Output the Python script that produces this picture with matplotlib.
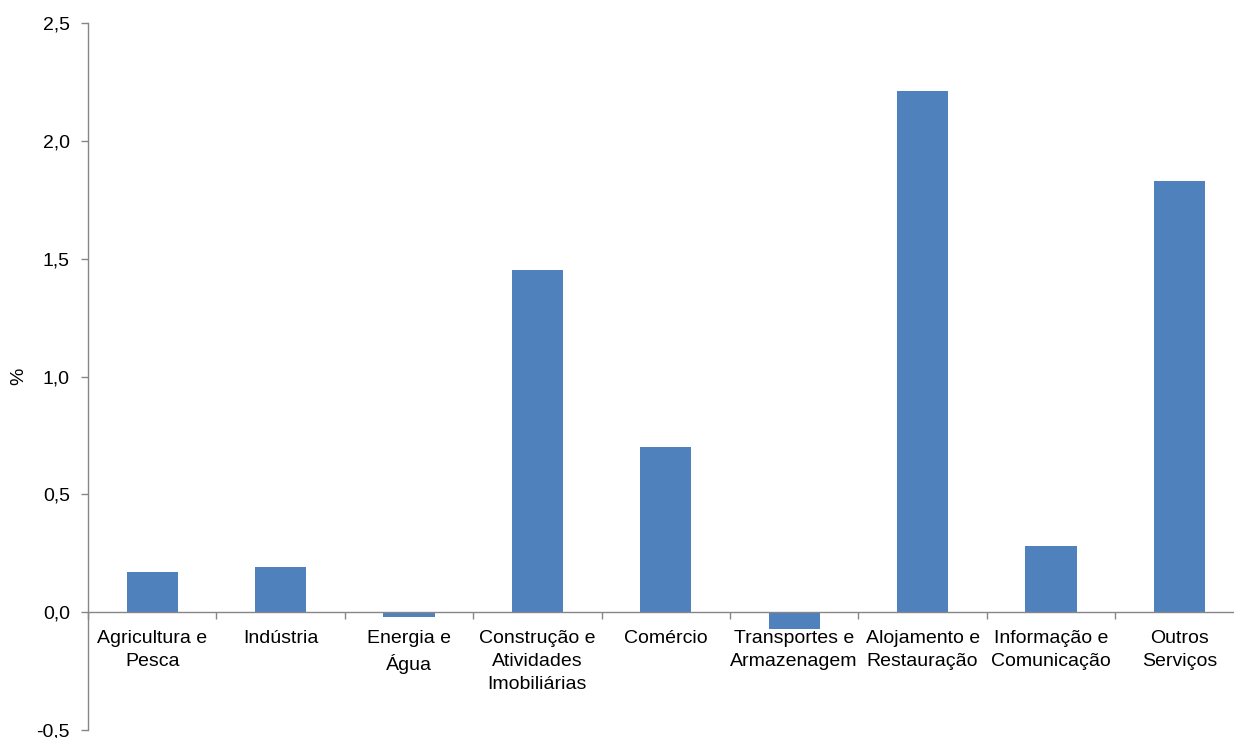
import matplotlib
matplotlib.use('Agg')
import matplotlib.pyplot as plt
from matplotlib.ticker import FixedLocator, FuncFormatter

plt.rcParams['font.family'] = ['Liberation Sans', 'DejaVu Sans']

categorias = ['Agricultura e\nPesca', 'Indústria', 'Energia e\nÁgua',
              'Construção e\nAtividades\nImobiliárias', 'Comércio',
              'Transportes e\nArmazenagem', 'Alojamento e\nRestauração',
              'Informação e\nComunicação', 'Outros\nServiços']
valores = [0.17, 0.19, -0.02, 1.45, 0.70, -0.07, 2.21, 0.28, 1.83]

cor_barra = '#4F81BD'
cor_eixo = '#868686'

fig = plt.figure(figsize=(12.34, 7.38), dpi=100)
ax = fig.add_axes([88 / 1234, 8 / 738, 1155.6 / 1234, 707 / 738])

x = list(range(len(categorias)))
ax.bar(x, valores, width=0.4, color=cor_barra, zorder=2)

ax.set_xlim(-0.5, 8.5)
ax.set_ylim(-0.5, 2.5)

# eixo y
ax.set_yticks([-0.5, 0, 0.5, 1.0, 1.5, 2.0, 2.5])
ax.yaxis.set_major_formatter(FuncFormatter(lambda v, p: f'{v:.1f}'.replace('.', ',')))
ax.tick_params(axis='y', direction='out', length=5, width=1, color=cor_eixo,
               labelsize=14, pad=8)
ax.set_ylabel('%', fontsize=14)
ax.yaxis.set_label_coords(-0.053, (738 - 376 - 8) / 707)

# eixo x em zero
ax.spines['bottom'].set_position(('data', 0))
ax.spines['top'].set_visible(False)
ax.spines['right'].set_visible(False)
for s in ('left', 'bottom'):
    ax.spines[s].set_color(cor_eixo)
    ax.spines[s].set_linewidth(1)

ax.xaxis.set_major_locator(FixedLocator([i + 0.5 for i in range(-1, 9)]))
ax.xaxis.set_major_formatter(FuncFormatter(lambda v, p: ''))
ax.xaxis.set_minor_locator(FixedLocator(x))
ax.set_xticklabels(categorias, minor=True, fontsize=14, linespacing=1.45)
ax.tick_params(axis='x', which='major', direction='out', length=5, width=1, color=cor_eixo)
ax.tick_params(axis='x', which='minor', length=0, pad=13)

fig.savefig('out.png', dpi=100)
